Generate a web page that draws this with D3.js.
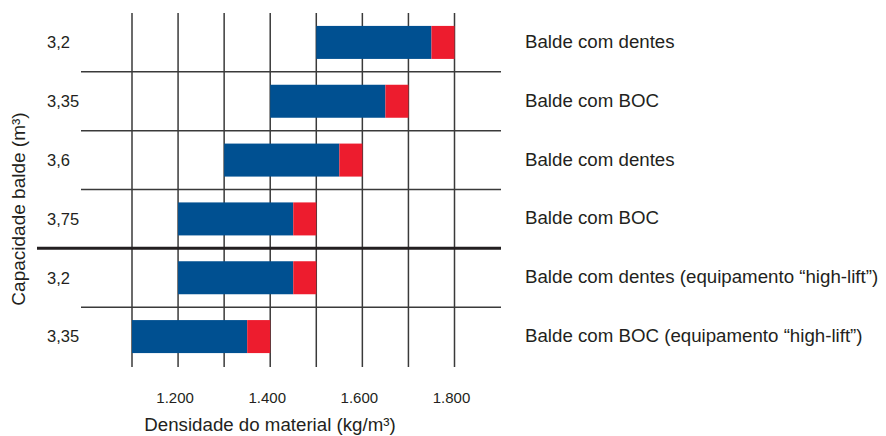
<!DOCTYPE html>
<html lang="pt">
  <head>
    <meta http-equiv="Content-Type" content="text/html; charset=utf-8"/>
    <style>
body { margin: 0; background: #fff; }
text {
  font-family: "Liberation Sans", Arial, Helvetica, sans-serif;
  fill: #231f20;
  font-size: 16px;
}
.grid line { stroke: #3a3a3a; stroke-width: 1.5px; }
    </style>
  </head>
  <body>
    <svg width="886" height="436"></svg>
    <script src="https://cdn.jsdelivr.net/npm/d3@7"></script>
    <script>

// capacity labels (m³), one per row
var capacities = ['3,2', '3,35', '3,6', '3,75', '3,2', '3,35'];
var bucketTypes = ['Balde com dentes', 'Balde com BOC', 'Balde com dentes', 'Balde com BOC',
                   'Balde com dentes (equipamento \u201chigh-lift\u201d)',
                   'Balde com BOC (equipamento \u201chigh-lift\u201d)'];
// density ranges (kg/m³)
var blueStart = [1500, 1400, 1300, 1200, 1200, 1100];
var blueEnd   = [1750, 1650, 1550, 1450, 1450, 1350];
var redEnd    = [1800, 1700, 1600, 1500, 1500, 1400];
var gridValues = [1100, 1200, 1300, 1400, 1500, 1600, 1700, 1800];
var tickValues = [1200, 1400, 1600, 1800];

var svg = d3.select('svg');

var x = d3.scaleLinear().domain([1100, 1800]).range([132, 454.5]);
var y = d3.scaleBand().domain(d3.range(capacities.length)).range([13, 366]).paddingInner(0).paddingOuter(0);

var grid = svg.append('g').attr('class', 'grid');

// vertical lines
grid.selectAll('line.v')
  .data(gridValues)
  .enter().append('line')
  .attr('class', 'v')
  .attr('x1', function(d) { return x(d) })
  .attr('x2', function(d) { return x(d) })
  .attr('y1', 13)
  .attr('y2', 367);

// horizontal separators between rows
grid.selectAll('line.h')
  .data(d3.range(1, capacities.length))
  .enter().append('line')
  .attr('class', 'h')
  .attr('x1', function(d) { return d == 4 ? 37 : 81 })
  .attr('x2', 501)
  .attr('y1', function(d) { return y(d) })
  .attr('y2', function(d) { return y(d) })
  .style('stroke', function(d) { return d == 4 ? '#231f20' : null })
  .style('stroke-width', function(d) { return d == 4 ? 3 : null });

var barH = 33;

svg.selectAll('rect.blue')
  .data(capacities)
  .enter().append('rect')
  .attr('class', 'blue')
  .attr('x', function(d, i) { return x(blueStart[i]) })
  .attr('width', function(d, i) { return x(blueEnd[i]) - x(blueStart[i]) })
  .attr('y', function(d, i) { return y(i) + y.bandwidth() / 2 - barH / 2 })
  .attr('height', barH)
  .style('fill', '#005091');

svg.selectAll('rect.red')
  .data(capacities)
  .enter().append('rect')
  .attr('class', 'red')
  .attr('x', function(d, i) { return x(blueEnd[i]) })
  .attr('width', function(d, i) { return x(redEnd[i]) - x(blueEnd[i]) })
  .attr('y', function(d, i) { return y(i) + y.bandwidth() / 2 - barH / 2 })
  .attr('height', barH)
  .style('fill', '#ed1c2e');

// row labels
svg.selectAll('text.cap')
  .data(capacities)
  .enter().append('text')
  .attr('class', 'cap')
  .attr('x', 47)
  .attr('y', function(d, i) { return y(i) + y.bandwidth() / 2 })
  .attr('dy', '0.35em')
  .style('font-size', '16.5px')
  .text(function(d) { return d });

svg.selectAll('text.type')
  .data(bucketTypes)
  .enter().append('text')
  .attr('class', 'type')
  .attr('x', 525)
  .attr('y', function(d, i) { return y(i) + y.bandwidth() / 2 - 1 })
  .attr('dy', '0.35em')
  .style('font-size', '18.7px')
  .text(function(d) { return d });

// x ticks
svg.selectAll('text.tick')
  .data(tickValues)
  .enter().append('text')
  .attr('class', 'tick')
  .attr('x', function(d) { return x(d) - 3 })
  .attr('y', 398)
  .attr('dy', '0.35em')
  .attr('text-anchor', 'middle')
  .style('font-size', '15px')
  .text(function(d) { return d3.format(',')(d).replace(',', '.') });

svg.append('text')
  .attr('x', 270)
  .attr('y', 424)
  .attr('dy', '0.35em')
  .attr('text-anchor', 'middle')
  .style('font-size', '18.7px')
  .text('Densidade do material (kg/m\u00b3)');

svg.append('text')
  .attr('transform', 'translate(18,209) rotate(-90)')
  .attr('dy', '0.35em')
  .attr('text-anchor', 'middle')
  .style('font-size', '19px')
  .text('Capacidade balde (m\u00b3)');

    </script>
  </body>
</html>
